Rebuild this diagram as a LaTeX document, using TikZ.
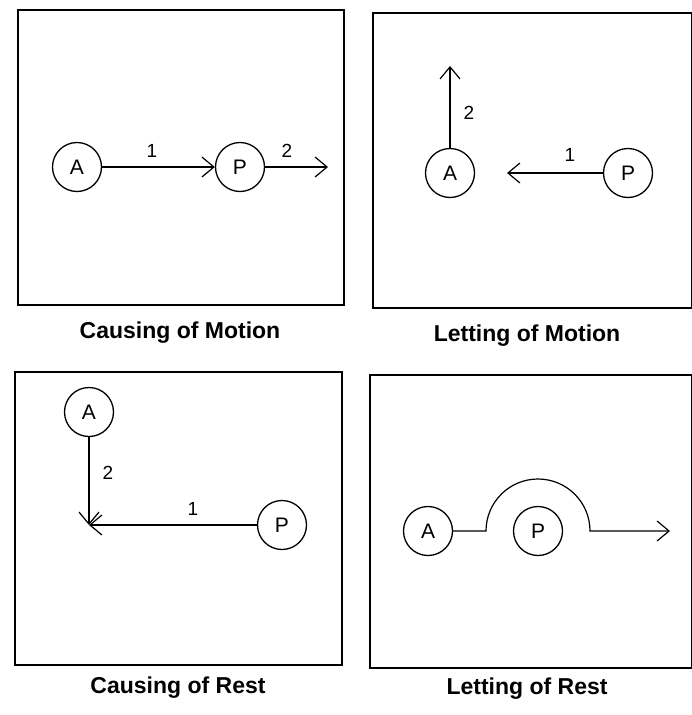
\documentclass[tikz,border=0pt]{standalone}
\usepackage{fontspec}
\setmainfont{Liberation Sans}
\usetikzlibrary{arrows.meta}
\begin{document}
\begin{tikzpicture}[x=1pt,y=-1pt,
  panel/.style={draw, line width=1.6pt},
  ent/.style={circle, draw, line width=1.3pt, minimum size=49pt, inner sep=0pt, font=\fontsize{21}{21}\selectfont},
  conn/.style={line width=1.2pt, -{Straight Barb[length=12pt,width=20pt,line width=1.2pt]}},
  num/.style={font=\fontsize{19}{19}\selectfont},
  capt/.style={font=\fontsize{23}{23}\selectfont\bfseries}]
\useasboundingbox (0,0) rectangle (691,715);
% Panel 1: Causing of Motion
\draw[panel] (18,10) rectangle (344,305);
\node[ent] (a1) at (77,167) {A};
\node[ent] (p1) at (240,167) {P};
\coordinate (e1) at (328,167);
\draw[conn] (a1) -- (p1);
\draw[conn] (p1) -- (e1);
\node[num] (n11) at (152,151) {1};
\node[num] (n12) at (287,151) {2};
\node[capt] (c1) at (180,333) {Causing of Motion};
% Panel 2: Letting of Motion
\draw[panel] (373,13) rectangle (692,308);
\node[ent] (a2) at (450,173) {A};
\node[ent] (p2) at (628,173) {P};
\coordinate (e2a) at (450,66);
\coordinate (e2p) at (507,173);
\draw[conn] (a2) -- (e2a);
\draw[conn] (p2) -- (e2p);
\node[num] (n21) at (570,155) {1};
\node[num] (n22) at (469,113) {2};
\node[capt] (c2) at (527,336) {Letting of Motion};
% Panel 3: Causing of Rest
\draw[panel] (15,372) rectangle (342,665);
\node[ent] (a3) at (89,412) {A};
\node[ent] (p3) at (282,525) {P};
\coordinate (e3) at (89,525);
\draw[conn] (a3) -- (e3);
\draw[conn] (p3) -- (e3);
\node[num] (n31) at (193,509) {1};
\node[num] (n32) at (108,473) {2};
\node[capt] (c3) at (178,688) {Causing of Rest};
% Panel 4: Letting of Rest
\draw[panel] (370,375) rectangle (692,668);
\node[ent] (a4) at (428,531) {A};
\node[ent] (p4) at (538,531) {P};
\coordinate (b4) at (486,531);
\coordinate (e4) at (670,531);
\draw[conn] (a4) -- (b4) arc[start angle=180, end angle=0, radius=52pt] -- (e4);
\node[capt] (c4) at (527,689) {Letting of Rest};
\end{tikzpicture}
\end{document}
